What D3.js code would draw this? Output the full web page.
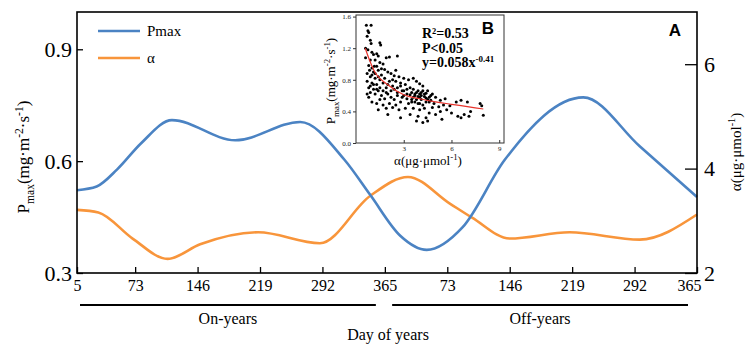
<!DOCTYPE html>
<html>
<head>
<meta charset="utf-8">
<script src="https://cdn.jsdelivr.net/npm/d3@7"></script>
<style>
  body { margin: 0; background: #fff; }
</style>
</head>
<body>
<svg id="chart" width="745" height="347"></svg>
<script>
// ---- data ----
const dayTicks = [5, 73, 146, 219, 292, 365, 438, 511, 584, 657, 730];   // two years laid end to end
const pmaxTicks = [0.3, 0.6, 0.9];
const alphaTicks = [2, 4, 6];

const pmaxDays = [5, 28, 52, 80, 116, 190, 266, 318, 348, 383, 414, 456, 505, 597, 663, 730];
const pmaxVals = [0.522, 0.532, 0.578, 0.648, 0.71, 0.656, 0.705, 0.603, 0.509, 0.40, 0.362, 0.423, 0.603, 0.771, 0.64, 0.504];

const alphaDays = [5, 30, 70, 111, 149, 217, 289, 348, 392, 441, 467, 511, 581, 663, 730];
const alphaVals = [3.21, 3.16, 2.66, 2.27, 2.55, 2.78, 2.57, 3.48, 3.84, 3.33, 3.06, 2.66, 2.78, 2.64, 3.12];

// inset B: alpha vs Pmax
const insetPoints = [
  [0.65,1.49],[0.95,1.49],[0.75,1.42],[0.8,1.40],[0.7,1.35],[0.9,1.30],[0.95,1.26],[1.5,1.27],[1.55,1.24],
  [0.6,1.20],[0.75,1.18],[1.0,1.15],[1.1,1.12],[1.3,1.13],[1.4,1.10],[1.9,1.08],[2.1,1.09],[1.2,1.05],
  [0.9,1.05],[0.6,1.08],[1.5,1.02],[1.7,1.00],[0.8,0.98],[1.0,0.95],[1.3,0.97],[2.6,1.10],[1.1,0.90],
  [1.4,0.92],[1.8,0.93],[0.7,0.88],[2.0,0.90],[2.2,0.88],[1.6,0.86],[0.9,0.84],[1.2,0.82],[1.5,0.80],
  [2.4,0.85],[2.7,0.84],[3.0,0.82],[0.7,0.78],[1.0,0.76],[1.3,0.74],[1.7,0.76],[2.1,0.78],[2.5,0.78],
  [3.3,0.80],[3.6,0.82],[3.8,0.78],[0.8,0.70],[1.1,0.68],[1.4,0.66],[1.9,0.70],[2.3,0.72],[2.8,0.72],
  [3.1,0.74],[3.4,0.70],[4.0,0.75],[4.2,0.72],[0.9,0.64],[1.2,0.62],[1.6,0.60],[2.0,0.62],[2.6,0.64],
  [3.0,0.66],[3.5,0.64],[3.7,0.62],[3.9,0.66],[4.1,0.64],[4.3,0.62],[4.5,0.66],[0.8,0.58],[1.5,0.55],
  [1.8,0.56],[2.2,0.58],[2.4,0.55],[2.9,0.58],[3.2,0.56],[3.6,0.58],[3.8,0.55],[4.0,0.58],[4.4,0.57],
  [4.7,0.60],[5.0,0.58],[1.0,0.52],[1.3,0.50],[1.7,0.48],[2.1,0.50],[2.5,0.48],[2.8,0.52],[3.3,0.50],
  [3.5,0.52],[3.9,0.50],[4.2,0.48],[4.6,0.52],[4.9,0.50],[5.3,0.54],[5.6,0.56],[1.4,0.42],[1.9,0.44],
  [2.3,0.45],[2.7,0.42],[3.1,0.44],[3.6,0.44],[4.0,0.42],[4.3,0.44],[4.8,0.45],[5.2,0.46],[5.5,0.48],
  [5.9,0.47],[6.3,0.52],[6.6,0.54],[7.0,0.52],[7.8,0.50],[7.9,0.47],[2.0,0.36],[2.8,0.32],[3.4,0.36],
  [3.9,0.34],[4.4,0.32],[4.6,0.38],[5.0,0.36],[5.3,0.40],[5.7,0.42],[6.0,0.38],[6.4,0.34],[6.8,0.36],
  [7.2,0.40],[7.1,0.34],[8.0,0.35],[4.2,0.26],[3.8,0.28],[5.4,0.30],[6.6,0.32],[4.5,0.28],
  [3.7,0.60],[3.8,0.64],[3.9,0.59],[4.0,0.62],[4.1,0.60],[4.2,0.66],[4.3,0.59],[4.4,0.63],[3.6,0.68],
  [3.4,0.61],[3.2,0.62],[4.5,0.55],[4.6,0.58],[4.7,0.54],[3.5,0.55],[4.8,0.62],[4.1,0.55],[3.7,0.52],
  [4.0,0.50],[4.4,0.52],[3.0,0.60],[2.9,0.66],[2.6,0.60],[2.4,0.68],[2.2,0.66],[1.9,0.64],[1.7,0.66],
  [1.5,0.70],[1.3,0.68],[1.1,0.74],[0.9,0.72],[1.0,0.86],[1.2,0.88],[1.4,0.84],[1.6,0.94],[1.8,0.82],
  [2.3,0.80],[2.0,0.74],[2.6,0.70],[2.8,0.76],[3.2,0.68],[0.7,0.62],[0.85,0.92],[1.15,0.97],[2.5,0.92]
];
const fitAlpha = [0.58, 0.83, 1.15, 1.98, 3.0, 4.0, 5.0, 6.0, 7.0, 8.0];
const fitPmax  = [1.20, 1.06, 0.91, 0.74, 0.61, 0.56, 0.52, 0.49, 0.46, 0.43];
const insetYTicks = [0.0, 0.4, 0.8, 1.2, 1.6];
const insetXTicks = [3, 6, 9];
const statLines = ["R²=0.53", "P<0.05", "y=0.058x"];

// ---- layout ----
const svg = d3.select("#chart");
const serif = "'Liberation Serif', 'Times New Roman', Times, serif";
const sans = "'Liberation Sans', Arial, sans-serif";
const plotL = 77, plotR = 697, plotT = 12, plotB = 273;
const blue = "#4b83c3", orange = "#f8953b";

const x = d3.scaleLinear().domain([5, 730]).range([plotL, plotR]);
const yL = d3.scaleLinear().domain([0.3, 1.0]).range([plotB, plotT]);
const yR = d3.scaleLinear().domain([2, 7]).range([plotB, plotT]);

svg.append("rect").attr("width", 745).attr("height", 347).attr("fill", "#fff");

// sub/superscript helper
function richText(sel, parts, size) {
  let shift = 0;
  sel.style("font-family", serif);
  parts.forEach(p => {
    const target = p[1] === "sub" ? size * 0.3 : p[1] === "sup" ? -size * 0.38 : 0;
    sel.append("tspan")
      .attr("dy", target - shift)
      .style("font-size", p[1] ? (size * 0.68) + "px" : size + "px")
      .text(p[0]);
    shift = target;
  });
}

// curves
const pmaxLine = d3.line().x((d, i) => x(pmaxDays[i])).y(d => yL(d)).curve(d3.curveMonotoneX);
const alphaLine = d3.line().x((d, i) => x(alphaDays[i])).y(d => yR(d)).curve(d3.curveMonotoneX);

svg.append("path").datum(alphaVals).attr("d", alphaLine)
  .attr("fill", "none").attr("stroke", orange).attr("stroke-width", 2.6);
svg.append("path").datum(pmaxVals).attr("d", pmaxLine)
  .attr("fill", "none").attr("stroke", blue).attr("stroke-width", 2.6);

// axes
const xAxis = svg.append("g").attr("transform", `translate(0,${plotB})`)
  .call(d3.axisBottom(x).tickValues(dayTicks).tickSizeInner(-6).tickSizeOuter(0).tickPadding(7)
    .tickFormat(d => d > 365 ? d - 365 : d));
xAxis.selectAll("text").style("font-size", "16px");
xAxis.selectAll("text").filter(d => d === 730).attr("x", -8);

const lAxis = svg.append("g").attr("transform", `translate(${plotL},0)`)
  .call(d3.axisLeft(yL).tickValues(pmaxTicks).tickSizeInner(-6).tickSizeOuter(0).tickPadding(5)
    .tickFormat(d3.format(".1f")));
lAxis.selectAll("text").style("font-size", "22px");

const rAxis = svg.append("g").attr("transform", `translate(${plotR},0)`)
  .call(d3.axisRight(yR).tickValues(alphaTicks).tickSizeInner(-12).tickSizeOuter(0).tickPadding(7)
    .tickFormat(d3.format("d")));
rAxis.selectAll("text").style("font-size", "22px");

[xAxis, lAxis, rAxis].forEach(a => {
  a.attr("font-family", null);
  a.select(".domain").remove();
  a.selectAll("text").style("font-family", serif).attr("fill", "#000");
  a.selectAll("line").attr("stroke", "#000").attr("stroke-width", 1.3);
});

svg.append("rect").attr("x", plotL).attr("y", plotT).attr("width", plotR - plotL).attr("height", plotB - plotT)
  .attr("fill", "none").attr("stroke", "#000").attr("stroke-width", 1.6);

// axis titles
richText(svg.append("text").attr("transform", "translate(29,157) rotate(-90)").attr("text-anchor", "middle"),
  [["P"], ["max", "sub"], ["(mg·m"], ["-2", "sup"], ["·s"], ["-1", "sup"], [")"]], 17);
richText(svg.append("text").attr("transform", "translate(741,152) rotate(-90)").attr("text-anchor", "middle"),
  [["α(μg·μmol"], ["-1", "sup"], [")"]], 15);

// year brackets
const years = [{ name: "On-years", a: 5, b: 365 }, { name: "Off-years", a: 370, b: 730 }];
years.forEach(yv => {
  svg.append("line").attr("x1", x(yv.a) + 3).attr("x2", x(yv.b) - 9).attr("y1", 305).attr("y2", 305)
    .attr("stroke", "#000").attr("stroke-width", 2);
  svg.append("text").attr("x", (x(yv.a) + x(yv.b)) / 2 - 3).attr("y", 324).attr("text-anchor", "middle")
    .style("font-family", serif).style("font-size", "16px").text(yv.name);
});
svg.append("text").attr("x", 388).attr("y", 340).attr("text-anchor", "middle")
  .style("font-family", serif).style("font-size", "16px").text("Day of years");

// legend
const legend = [{ name: "Pmax", color: blue, y: 31 }, { name: "α", color: orange, y: 58 }];
legend.forEach(l => {
  svg.append("line").attr("x1", 98).attr("x2", 140).attr("y1", l.y).attr("y2", l.y)
    .attr("stroke", l.color).attr("stroke-width", 2.6);
  svg.append("text").attr("x", 147).attr("y", l.y + 5)
    .style("font-family", serif).style("font-size", "15px").text(l.name);
});

svg.append("text").attr("x", 675).attr("y", 36).attr("text-anchor", "middle")
  .style("font-family", sans).style("font-weight", "bold").style("font-size", "17px").text("A");

// ---- inset B ----
const ix = d3.scaleLinear().domain([0, 9.3]).range([356, 504]);
const iy = d3.scaleLinear().domain([0, 1.62]).range([143, 15]);
const inset = svg.append("g");
inset.append("rect").attr("x", 356).attr("y", 15).attr("width", 148).attr("height", 128)
  .attr("fill", "#fff").attr("stroke", "#333").attr("stroke-width", 1);

const ixAxis = inset.append("g").attr("transform", "translate(0,143)")
  .call(d3.axisBottom(ix).tickValues(insetXTicks).tickSizeInner(-3).tickSizeOuter(0).tickPadding(3));
const iyAxis = inset.append("g").attr("transform", "translate(356,0)")
  .call(d3.axisLeft(iy).tickValues(insetYTicks).tickSizeInner(3).tickSizeOuter(0).tickPadding(2)
    .tickFormat(d3.format(".1f")));
[ixAxis, iyAxis].forEach(a => {
  a.attr("font-family", null);
  a.select(".domain").remove();
  a.selectAll("text").style("font-family", serif).style("font-size", "7px").attr("fill", "#222");
  a.selectAll("line").attr("stroke", "#333");
});

inset.append("g").selectAll("circle").data(insetPoints).join("circle")
  .attr("cx", d => ix(d[0])).attr("cy", d => iy(d[1])).attr("r", 1.5).attr("fill", "#000");

inset.append("path").datum(fitPmax)
  .attr("d", d3.line().x((d, i) => ix(fitAlpha[i])).y(d => iy(d)).curve(d3.curveMonotoneX))
  .attr("fill", "none").attr("stroke", "#e8322b").attr("stroke-width", 1.2);

statLines.forEach((s, i) => {
  const t = inset.append("text").attr("x", 422).attr("y", 38 + i * 14.5)
    .style("font-family", serif).style("font-size", "14px").style("font-weight", "bold").text(s);
  if (i === 2) t.append("tspan").attr("dy", -5).style("font-size", "9px").text("-0.41");
});
inset.append("text").attr("x", 488).attr("y", 34).attr("text-anchor", "middle")
  .style("font-family", sans).style("font-weight", "bold").style("font-size", "17px").text("B");

richText(inset.append("text").attr("transform", "translate(335,81) rotate(-90)").attr("text-anchor", "middle"),
  [["P"], ["max", "sub"], ["(mg·m"], ["-2", "sup"], ["·s"], ["-1", "sup"], [")"]], 13);
richText(inset.append("text").attr("x", 428).attr("y", 165).attr("text-anchor", "middle"),
  [["α(μg·μmol"], ["-1", "sup"], [")"]], 13);
</script>
</body>
</html>
